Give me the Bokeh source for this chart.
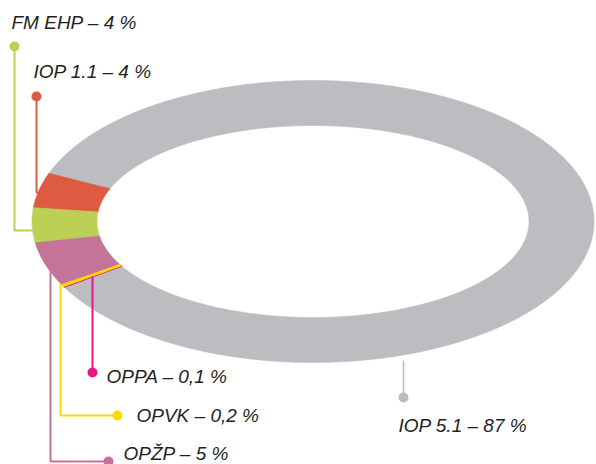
import numpy as np
from bokeh.plotting import figure
from bokeh.models import Range1d, ColumnDataSource
from bokeh.embed import file_html
from bokeh.resources import INLINE
from bokeh.core.properties import value

# ---- data (counter-clockwise order starting at the upper-left of the ring) ----
programmes = ["IOP 1.1", "FM EHP", "OPŽP", "OPVK", "OPPA", "IOP 5.1"]
shares = [4, 4, 5, 0.2, 0.1, 87]
share_labels = ["4", "4", "5", "0,2", "0,1", "87"]
colors = ["#DC5B41", "#BDD056", "#C47399", "#FFD800", "#E8168C", "#BCBDC1"]

# ---- ring geometry (pixel space) ----
CX, CY = 312.5, 221.0
A_OUT, B_OUT = 281.0, 141.0
A_IN, B_IN = 216.0, 96.0
START_DEG = 160.0

W, H = 596, 464
p = figure(width=W, height=H, output_backend="svg", toolbar_location=None,
           x_range=Range1d(0, W), y_range=Range1d(H, 0), min_border=0)
p.axis.visible = False
p.grid.visible = False
p.outline_line_color = None
p.background_fill_color = "white"

total = float(sum(shares))
ang = START_DEG
xs, ys, fills = [], [], []
for name, v, c in zip(programmes, shares, colors):
    span = v / total * 360.0
    t = np.radians(np.linspace(ang, ang + span, max(4, int(span * 3))))
    ox = CX + A_OUT * np.cos(t)
    oy = CY - B_OUT * np.sin(t)
    ix = CX + A_IN * np.cos(t[::-1])
    iy = CY - B_IN * np.sin(t[::-1])
    xs.append(list(np.concatenate([ox, ix])))
    ys.append(list(np.concatenate([oy, iy])))
    fills.append(c)
    ang += span

# draw big segment first, slivers last
order = [5, 0, 1, 2, 4, 3]
for i in order:
    lw = 1.2 if shares[i] < 1 else 0.6
    p.patch(xs[i], ys[i], fill_color=fills[i], line_color=fills[i], line_width=lw)

# ---- leader lines / labels layout (pixel space) ----
label_layout = {
    "FM EHP":  dict(path=([32, 14, 14], [230, 230, 46]), dot=(14, 46), txt=(11, 22)),
    "IOP 1.1": dict(path=([57, 36, 36], [192, 192, 96]), dot=(36, 96), txt=(33, 71)),
    "OPŽP":    dict(path=([50, 50, 108], [271, 461, 461]), dot=(108, 461), txt=(123, 453)),
    "OPVK":    dict(path=([60, 60, 117], [283, 415, 415]), dot=(117, 415), txt=(136, 415)),
    "OPPA":    dict(path=([92, 92], [276, 372]), dot=(92, 372), txt=(106, 376)),
    "IOP 5.1": dict(path=([403, 403], [360, 397]), dot=(403, 397), txt=(398, 425)),
}

dot_x, dot_y, dot_c, tx, ty, tt = [], [], [], [], [], []
for name, lab, c in zip(programmes, share_labels, colors):
    L = label_layout[name]
    lw = 1.5 if name == "IOP 5.1" else 2
    p.line(L["path"][0], L["path"][1], line_color=c, line_width=lw)
    dot_x.append(L["dot"][0]); dot_y.append(L["dot"][1]); dot_c.append(c)
    tx.append(L["txt"][0]); ty.append(L["txt"][1])
    tt.append(f"{name} – {lab} %")

p.scatter(dot_x, dot_y, size=10, fill_color=dot_c, line_color=None)

src = ColumnDataSource(dict(x=tx, y=ty, t=tt))
p.text("x", "y", text="t", source=src, text_font=value("Liberation Sans"),
       text_font_style="italic", text_font_size="19px", text_color="#231F20",
       text_baseline="alphabetic", text_align="left")

open("out.html", "w").write(file_html(p, INLINE))
